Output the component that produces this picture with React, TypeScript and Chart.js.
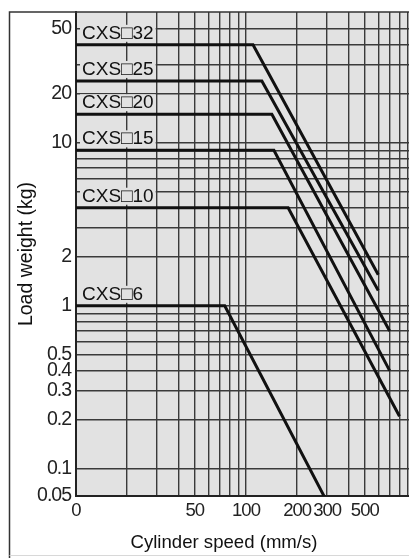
import React, { useEffect, useRef } from 'react';
import { Chart, registerables } from 'chart.js';

Chart.register(...registerables);

// ---------------- data ----------------
const seriesNames = ['CXS□32', 'CXS□25', 'CXS□20', 'CXS□15', 'CXS□10', 'CXS□6'];
const startSpeeds = [10, 10, 10, 10, 10, 10];
const kneeSpeeds = [110, 124, 142, 146, 177, 75];
const maxLoads = [40, 24, 15, 9, 4, 1];
const endSpeeds = [600, 600, 700, 700, 800, 300];
const endLoads = [1.55, 1.24, 0.7, 0.4, 0.21, 0.0625];

const xGridValues = [10, 20, 30, 40, 50, 60, 70, 80, 90, 100, 200, 300, 400, 500, 600, 700, 800, 900];
const xTickValues = [10, 50, 100, 200, 300, 500];
const xTickLabels = ['0', '50', '100', '200', '300', '500'];

const yGridValues = [
  0.1, 0.2, 0.3, 0.4, 0.5, 0.6, 0.7, 0.8, 0.9,
  1, 2, 3, 4, 5, 6, 7, 8, 9,
  10, 20, 30, 40, 50,
];
const yTickValues = [0.05, 0.1, 0.2, 0.3, 0.4, 0.5, 1, 2, 10, 20, 50];
const yTickLabels = ['0.05', '0.1', '0.2', '0.3', '0.4', '0.5', '1', '2', '10', '20', '50'];

const xMin = 10;
const xMax = 910;
const yMin = 0.068;
const yMax = 63.6;

const xTitle = 'Cylinder speed (mm/s)';
const yTitle = 'Load weight (kg)';

// ---------------- styles ----------------
const FONT = "'Liberation Sans', Arial, 'DejaVu Sans', sans-serif";
const PLOT_BG = '#e2e2e2';
const GRID = '#3a3a3a';
const INK = '#111111';

type TickItem = { value: number; label: string };

function buildTickList(grid: number[], vals: number[], labels: string[], min: number, max: number): TickItem[] {
  const clamp = (v: number) => Math.min(Math.max(v, min), max);
  const map = new Map<number, string>();
  vals.forEach((v, i) => map.set(clamp(v), labels[i]));
  const all = new Set<number>([...grid.map(clamp), ...map.keys()]);
  return [...all].sort((a, b) => a - b).map((v) => ({ value: v, label: map.get(v) ?? '' }));
}

const xTickList = buildTickList(xGridValues, xTickValues, xTickLabels, xMin, xMax);
const yTickList = buildTickList(yGridValues, yTickValues, yTickLabels, yMin, yMax);

const plotBgPlugin = {
  id: 'plotBg',
  beforeDraw(chart: any) {
    const { ctx, chartArea } = chart;
    ctx.save();
    ctx.fillStyle = PLOT_BG;
    ctx.fillRect(chartArea.left, chartArea.top, chartArea.right - chartArea.left, chartArea.bottom - chartArea.top);
    ctx.restore();
    // tighter tracking for the axis tick labels drawn next
    ctx.letterSpacing = '-1px';
  },
};

const seriesLabelPlugin = {
  id: 'seriesLabels',
  beforeDatasetsDraw(chart: any) {
    const { ctx, chartArea, scales } = chart;
    ctx.letterSpacing = '0px';
    ctx.save();
    ctx.font = `19px ${FONT}`;
    ctx.textBaseline = 'alphabetic';
    ctx.textAlign = 'left';
    seriesNames.forEach((name, i) => {
      const y = scales.y.getPixelForValue(maxLoads[i]) - 6;
      const x = chartArea.left + 6;
      const w = ctx.measureText(name).width;
      ctx.fillStyle = PLOT_BG;
      ctx.fillRect(x - 2, y - 14, w + 4, 17);
      ctx.fillStyle = INK;
      ctx.fillText(name, x, y);
    });
    ctx.restore();
  },
};

const framePlugin = {
  id: 'frame',
  afterDraw(chart: any) {
    const { ctx, chartArea, width, height } = chart;
    ctx.letterSpacing = '0px';
    ctx.save();
    ctx.strokeStyle = '#333';
    ctx.lineWidth = 1.5;
    ctx.beginPath();
    ctx.moveTo(9.5, height);
    ctx.lineTo(9.5, chartArea.top);
    ctx.lineTo(width, chartArea.top);
    ctx.stroke();
    ctx.strokeStyle = '#d8d8d8';
    ctx.lineWidth = 1;
    ctx.beginPath();
    ctx.moveTo(9.5, height - 2.5);
    ctx.lineTo(width, height - 2.5);
    ctx.stroke();

    ctx.fillStyle = INK;
    ctx.textBaseline = 'alphabetic';
    ctx.textAlign = 'center';
    ctx.font = `18.6px ${FONT}`;
    ctx.fillText(xTitle, 224, 548);
    ctx.save();
    ctx.font = `19.5px ${FONT}`;
    ctx.translate(32, (chartArea.top + chartArea.bottom) / 2);
    ctx.rotate(-Math.PI / 2);
    ctx.fillText(yTitle, 0, 0);
    ctx.restore();
    ctx.restore();
  },
};

export default function App() {
  const canvasRef = useRef<HTMLCanvasElement | null>(null);

  useEffect(() => {
    if (!canvasRef.current) return;
    const datasets = seriesNames.map((name, i) => ({
      label: name,
      data: [
        { x: startSpeeds[i], y: maxLoads[i] },
        { x: kneeSpeeds[i], y: maxLoads[i] },
        { x: endSpeeds[i], y: endLoads[i] },
      ],
      borderColor: INK,
      borderWidth: 3,
      pointRadius: 0,
      fill: false,
      tension: 0,
      clip: 0,
    }));

    const chart = new Chart(canvasRef.current, {
      type: 'line',
      data: { datasets },
      options: {
        animation: false,
        responsive: false,
        maintainAspectRatio: false,
        events: [],
        layout: { padding: { top: 12, left: 0, right: 0, bottom: 0 } },
        plugins: { legend: { display: false }, tooltip: { enabled: false }, title: { display: false } },
        scales: {
          x: {
            type: 'logarithmic',
            min: xMin,
            max: xMax,
            afterBuildTicks: (scale: any) => {
              scale.ticks = xTickList.map((t) => ({ value: t.value }));
            },
            afterFit: (scale: any) => {
              scale.height = 62;
              scale.paddingLeft = 0;
              scale.paddingRight = 0;
            },
            ticks: {
              autoSkip: false,
              maxRotation: 0,
              minRotation: 0,
              padding: 4,
              color: '#222',
              font: { family: FONT, size: 18.5 },
              callback: (_v: any, index: number) => xTickList[index]?.label ?? '',
            },
            grid: { color: GRID, lineWidth: 1.4, drawTicks: false },
            border: { display: true, color: '#222', width: 2 },
          },
          y: {
            type: 'logarithmic',
            min: yMin,
            max: yMax,
            afterBuildTicks: (scale: any) => {
              scale.ticks = yTickList.map((t) => ({ value: t.value }));
            },
            afterFit: (scale: any) => {
              scale.width = 76;
              scale.paddingTop = 0;
              scale.paddingBottom = 0;
            },
            ticks: {
              autoSkip: false,
              padding: 5,
              color: '#222',
              font: { family: FONT, size: 19.5 },
              callback: (_v: any, index: number) => yTickList[index]?.label ?? '',
            },
            grid: { color: GRID, lineWidth: 1.4, drawTicks: false },
            border: { display: true, color: '#222', width: 2 },
          },
        },
      } as any,
      plugins: [plotBgPlugin, seriesLabelPlugin, framePlugin],
    });
    return () => chart.destroy();
  }, []);

  return (
    <div style={{ position: 'fixed', left: 0, top: 0, width: 409, height: 558, background: '#fff' }}>
      <canvas ref={canvasRef} width={409} height={558} style={{ display: 'block', width: 409, height: 558 }} />
    </div>
  );
}
